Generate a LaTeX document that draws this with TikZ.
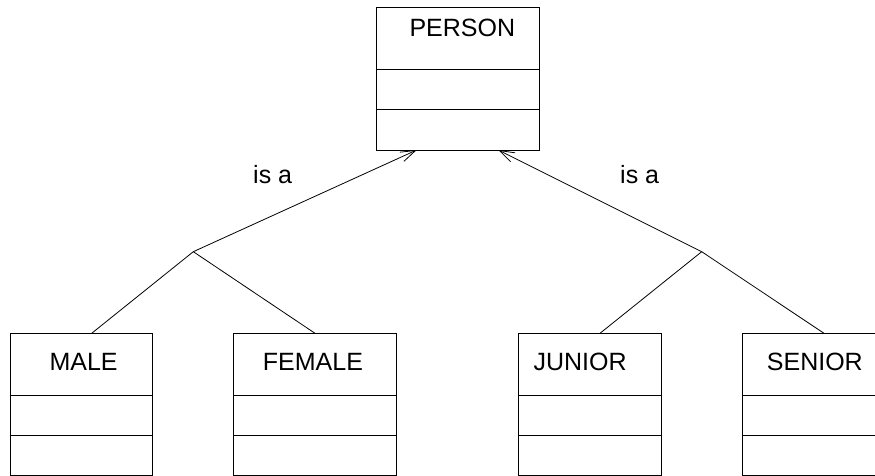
\documentclass[tikz,border=0pt]{standalone}
\usepackage{fontspec}
\setmainfont{Liberation Sans}
\usetikzlibrary{arrows.meta}
\begin{document}
\begin{tikzpicture}[x=1pt,y=-1pt,
  umlbox/.style={draw, line width=0.8pt, inner sep=0pt, outer sep=0pt, anchor=north west},
  conn/.style={line width=0.8pt},
  isa/.style={line width=0.8pt, -{Straight Barb[length=15pt,width=10pt,line width=0.8pt]}},
  lbl/.style={inner sep=0pt, anchor=base west, font=\fontsize{25}{30}\selectfont}]
\useasboundingbox (0,0) rectangle (875,476);
% boxes
\node[umlbox, minimum width=163pt, minimum height=142.7pt] (person) at (376,7.3) {};
\node[umlbox, minimum width=142.5pt, minimum height=142.2pt] (male) at (10,333.3) {};
\node[umlbox, minimum width=163pt, minimum height=142.2pt] (female) at (233.5,333.3) {};
\node[umlbox, minimum width=143pt, minimum height=142.2pt] (junior) at (518.7,333.3) {};
\node[umlbox, minimum width=163pt, minimum height=142.2pt] (senior) at (742.7,333.3) {};
% compartments
\draw[conn] (376,69) -- (539,69) (376,109) -- (539,109);
\draw[conn] (10,395) -- (152.5,395) (10,435) -- (152.5,435);
\draw[conn] (233.5,395) -- (396.5,395) (233.5,435) -- (396.5,435);
\draw[conn] (518.7,395) -- (661.7,395) (518.7,435) -- (661.7,435);
\draw[conn] (742.7,395) -- (905.7,395) (742.7,435) -- (905.7,435);
% titles
\node[lbl] (tperson) at (409.3,36.7) {PERSON};
\node[lbl] (tmale) at (49.3,370) {MALE};
\node[lbl] (tfemale) at (262.7,370) {FEMALE};
\node[lbl] (tjunior) at (533.3,370) {JUNIOR};
\node[lbl] (tsenior) at (766.7,370) {SENIOR};
\node[lbl] (isa1) at (253,183.3) {is a};
\node[lbl] (isa2) at (620,183.3) {is a};
% connection points
\coordinate (jl) at (193.3,251.7);
\coordinate (jr) at (701.7,251.7);
\coordinate (pl) at (416.7,150);
\coordinate (pr) at (498.3,150);
\coordinate (mt) at (91.7,333.3);
\coordinate (ft) at (315,333.3);
\coordinate (jt) at (600,333.3);
\coordinate (st) at (824,333.3);
% connectors
\draw[isa] (jl) -- (pl);
\draw[isa] (jr) -- (pr);
\draw[conn] (jl) -- (mt);
\draw[conn] (jl) -- (ft);
\draw[conn] (jr) -- (jt);
\draw[conn] (jr) -- (st);
\end{tikzpicture}
\end{document}
